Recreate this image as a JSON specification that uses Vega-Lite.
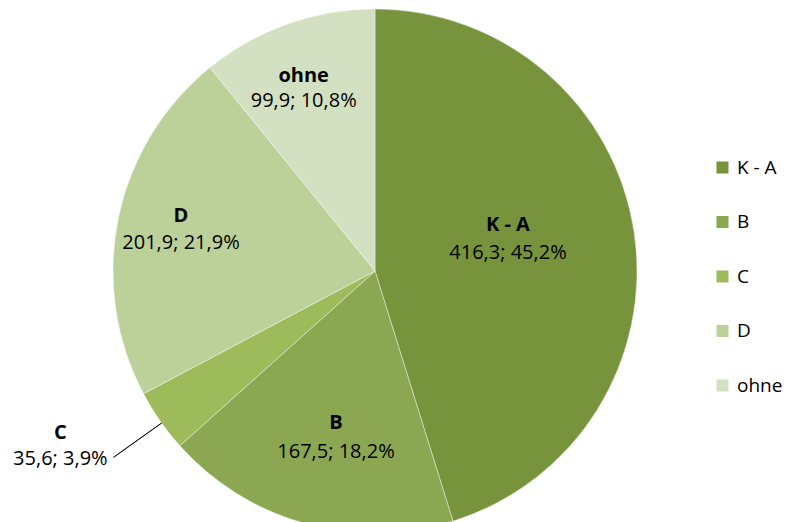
{
  "$schema": "https://vega.github.io/schema/vega-lite/v6.json",
  "width": 750,
  "height": 542,
  "padding": 0,
  "autosize": {"type": "pad"},
  "background": "white",
  "config": {"view": {"stroke": null}, "font": "Open Sans", "text": {"font": "Open Sans", "fontSize": 20, "color": "#000000", "baseline": "middle", "align": "center"}},
  "data": {"values": [
    {"i": 1, "k": "K - A", "v": 416.3, "lab": "416,3; 45,2%"},
    {"i": 2, "k": "B", "v": 167.5, "lab": "167,5; 18,2%"},
    {"i": 3, "k": "C", "v": 35.6, "lab": "35,6; 3,9%"},
    {"i": 4, "k": "D", "v": 201.9, "lab": "201,9; 21,9%"},
    {"i": 5, "k": "ohne", "v": 99.9, "lab": "99,9; 10,8%"}
  ]},
  "transform": [
    {"stack": "v", "groupby": [], "sort": [{"field": "i", "order": "ascending"}], "as": ["s0", "s1"]},
    {"calculate": "(datum.s0 + datum.s1) / 2", "as": "mid"}
  ],
  "layer": [
    {
      "mark": {"type": "arc", "outerRadius": 262, "stroke": "white", "strokeWidth": 0.4},
      "encoding": {
        "theta": {"field": "v", "type": "quantitative", "stack": true},
        "order": {"field": "i", "type": "quantitative"},
        "color": {
          "field": "k", "type": "nominal",
          "scale": {"domain": ["K - A", "B", "C", "D", "ohne"], "range": ["#77933C", "#8CA752", "#9DBB5A", "#BCD09A", "#D4E0C2"]},
          "legend": {"orient": "none", "legendX": 713, "legendY": 158, "title": null, "symbolType": "square", "symbolSize": 144, "symbolStrokeWidth": 0, "labelFontSize": 19, "labelFont": "Open Sans", "labelColor": "#000000", "rowPadding": 34.5, "labelOffset": 5, "padding": 0}
        }
      }
    },
    {
      "transform": [{"filter": "datum.k === 'C'"}, {"calculate": "datum.mid - 1.5", "as": "midA"}, {"calculate": "datum.mid - 1.45", "as": "midB"}],
      "mark": {"type": "arc", "innerRadius": 262, "outerRadius": 321, "stroke": "#000000", "strokeWidth": 0.8, "fill": null},
      "encoding": {"theta": {"field": "midA", "type": "quantitative"}, "theta2": {"field": "midB"}}
    },
    {
      "transform": [{"filter": "datum.k === 'K - A'"}],
      "mark": {"type": "text", "radius": 134.5, "dy": -26, "fontWeight": "bold"},
      "encoding": {"theta": {"field": "mid", "type": "quantitative"}, "text": {"field": "k"}}
    },
    {
      "transform": [{"filter": "datum.k === 'K - A'"}],
      "mark": {"type": "text", "radius": 134.5, "dy": 2},
      "encoding": {"theta": {"field": "mid", "type": "quantitative"}, "text": {"field": "lab"}}
    },
    {
      "transform": [{"filter": "datum.k === 'B'"}],
      "mark": {"type": "text", "radius": 160, "dx": 3.5, "dy": -2, "fontWeight": "bold"},
      "encoding": {"theta": {"field": "mid", "type": "quantitative"}, "text": {"field": "k"}}
    },
    {
      "transform": [{"filter": "datum.k === 'B'"}],
      "mark": {"type": "text", "radius": 160, "dx": 3.5, "dy": 26.5},
      "encoding": {"theta": {"field": "mid", "type": "quantitative"}, "text": {"field": "lab"}}
    },
    {
      "transform": [{"filter": "datum.k === 'C'"}],
      "mark": {"type": "text", "radius": 330, "dx": -44, "dy": -27, "fontWeight": "bold"},
      "encoding": {"theta": {"field": "mid", "type": "quantitative"}, "text": {"field": "k"}}
    },
    {
      "transform": [{"filter": "datum.k === 'C'"}],
      "mark": {"type": "text", "radius": 330, "dx": -44, "dy": -1},
      "encoding": {"theta": {"field": "mid", "type": "quantitative"}, "text": {"field": "lab"}}
    },
    {
      "transform": [{"filter": "datum.k === 'D'"}],
      "mark": {"type": "text", "radius": 198, "dy": -15, "fontWeight": "bold"},
      "encoding": {"theta": {"field": "mid", "type": "quantitative"}, "text": {"field": "k"}}
    },
    {
      "transform": [{"filter": "datum.k === 'D'"}],
      "mark": {"type": "text", "radius": 198, "dy": 12},
      "encoding": {"theta": {"field": "mid", "type": "quantitative"}, "text": {"field": "lab"}}
    },
    {
      "transform": [{"filter": "datum.k === 'ohne'"}],
      "mark": {"type": "text", "radius": 185, "dx": -9.5, "dy": -20.5, "fontWeight": "bold"},
      "encoding": {"theta": {"field": "mid", "type": "quantitative"}, "text": {"field": "k"}}
    },
    {
      "transform": [{"filter": "datum.k === 'ohne'"}],
      "mark": {"type": "text", "radius": 185, "dx": -9.5, "dy": 4},
      "encoding": {"theta": {"field": "mid", "type": "quantitative"}, "text": {"field": "lab"}}
    }
  ]
}
